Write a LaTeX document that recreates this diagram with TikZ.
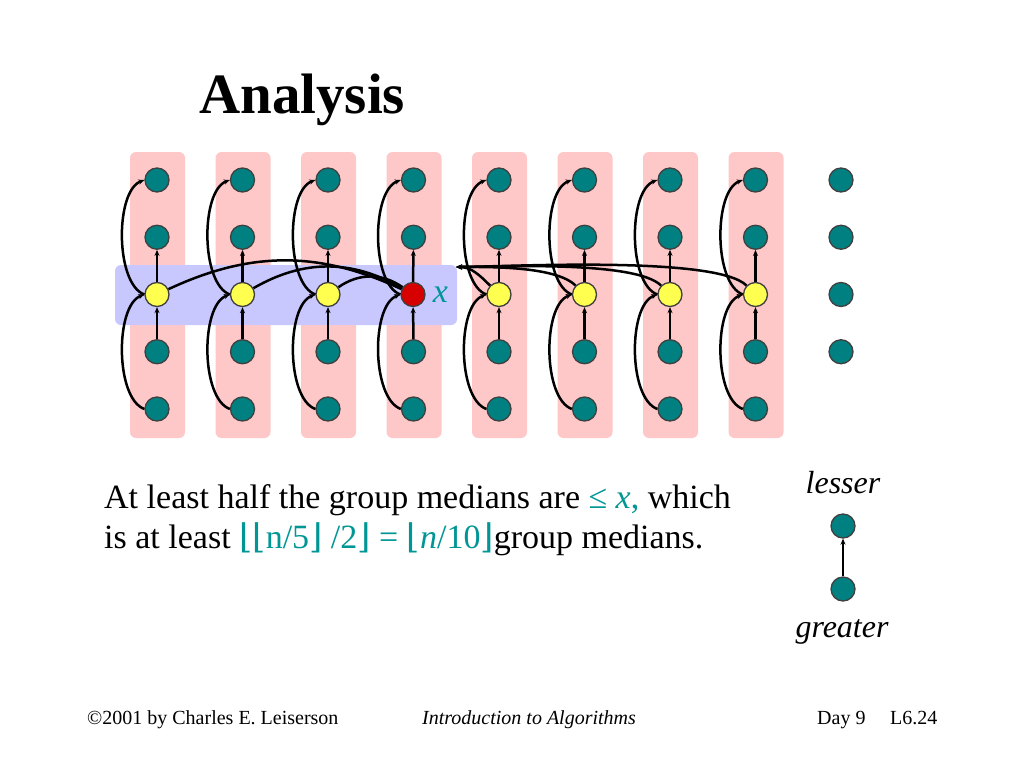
\documentclass[tikz,border=0pt]{standalone}
\usepackage{fontspec}
\setmainfont{Liberation Serif}
\newfontfamily\flrfont{DejaVu Serif}
\usetikzlibrary{arrows.meta, positioning}
\definecolor{nodeteal}{RGB}{0,128,128}
\definecolor{textteal}{RGB}{0,150,150}
\definecolor{grppink}{RGB}{255,200,200}
\definecolor{medblue}{RGB}{200,200,255}
\definecolor{medyellow}{RGB}{255,255,80}
\definecolor{xred}{RGB}{215,0,0}
\newcommand{\lflr}{{\flrfont ⌊}}
\newcommand{\rflr}{{\flrfont ⌋}}
\tikzset{
  elem/.style   = {circle, draw=black!75, line width=1.3pt, fill=nodeteal,
                   minimum size=24pt, inner sep=0pt},
  med/.style    = {elem, fill=medyellow},
  pivot/.style  = {elem, fill=xred},
  link/.style   = {-{Stealth[length=6pt, width=5pt]}, line width=2.5pt},
  cmp/.style    = {line width=2.5pt},
  body/.style   = {anchor=base west, inner sep=0pt, font=\fontsize{34}{40}\selectfont},
  foot/.style   = {anchor=base west, inner sep=0pt, font=\fontsize{20}{22}\selectfont},
}

\begin{document}
\begin{tikzpicture}[x=1pt, y=1pt]
  \useasboundingbox (0,0) rectangle (1024,-768);
  \fill[white] (0,0) rectangle (1024,-768);
  \node[anchor=base west, inner sep=0pt, font=\fontsize{57}{60}\selectfont\bfseries] (title) at (199,-113) {Analysis};

  % groups of five
  \foreach \i in {1,...,8}
    \fill[grppink, rounded corners=6pt] ({71.5+85.5*\i-27},-152) rectangle ({71.5+85.5*\i+28},-438);
  \fill[medblue, rounded corners=6pt] (115,-265) rectangle (457,-325);

  % elements
  \foreach \i in {1,...,8}
    \foreach \j in {1,2,4,5}
      \node[elem] (c\i-\j) at ({71.5+85.5*\i},{-180-57.25*(\j-1)}) {};
  \foreach \i in {1,2,3,5,6,7,8}
    \node[med] (c\i-3) at ({71.5+85.5*\i},-294.5) {};
  \node[pivot] (c4-3) at (413,-294.5) {};
  \foreach \j in {1,...,4}
    \node[elem] (c9-\j) at (841,{-180-57.25*(\j-1)}) {};
  \node[right=7pt of c4-3, inner sep=0pt, text=textteal, font=\fontsize{34}{34}\selectfont\itshape] (xlab) {x};
  \coordinate (xr) at (456,-267);

  % order inside each group
  \foreach \i in {1,...,8} {
    \draw[link] (c\i-3) -- (c\i-2);
    \draw[link] (c\i-4) -- (c\i-3);
    \draw[link] (c\i-3.west) to[out=160, in=200, looseness=0.7] (c\i-1.west);
    \draw[link] (c\i-5.west) to[out=160, in=200, looseness=0.7] (c\i-3.west);
  }

  % medians against x
  \foreach \i/\b in {1/25, 2/30, 3/35}
    \draw[cmp] (c4-3) to[bend right=\b] (c\i-3);
  \foreach \i/\l in {5/1, 6/0.6, 7/0.45, 8/0.38}
    \draw[link] (c\i-3) to[out=135, in=0, looseness=\l] (xr);

  % text
  \node[body] (line1) at (104,-508) {At least half the group medians are \textcolor{textteal}{≤ \textit{x},} which};
  \node[body] (line2) at (104,-548) {is at least \textcolor{textteal}{\lflr\lflr n/5\rflr\ /2\rflr\ = \lflr\textit{n}/10\rflr}group medians.};

  % legend
  \node[font=\fontsize{32}{32}\selectfont\itshape] (lesser) at (843,-483) {lesser};
  \node[elem] (less) at (843,-526) {};
  \node[elem] (great) at (843,-589) {};
  \node[font=\fontsize{32}{32}\selectfont\itshape] (greater) at (842,-632) {greater};
  \draw[link] (great) -- (less);

  % footer
  \node[foot] (copy) at (87,-724) {©2001 by Charles E. Leiserson};
  \node[foot, font=\fontsize{20}{22}\selectfont\itshape] (book) at (422,-724) {Introduction to Algorithms};
  \node[foot] (day) at (817,-724) {Day 9};
  \node[foot] (slide) at (890,-724) {L6.24};
\end{tikzpicture}
\end{document}
